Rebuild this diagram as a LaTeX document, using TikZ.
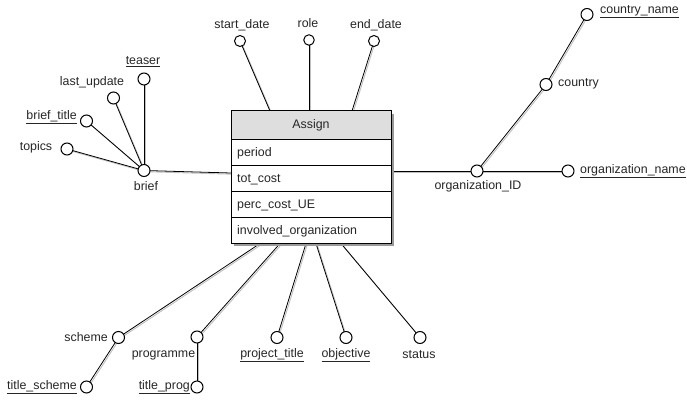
\documentclass[tikz,border=0pt]{standalone}
\usepackage{fontspec}
\setmainfont{Liberation Sans}
\usetikzlibrary{backgrounds}
\begin{document}
\begin{tikzpicture}[x=1pt,y=-1pt,
  every node/.style={font=\fontsize{12.4}{14}\selectfont, text=black!85, inner sep=0pt},
  attr/.style={circle, draw=black, fill=white, line width=1pt, minimum size=12pt, inner sep=0pt},
  sattr/.style={attr, minimum size=10.5pt},
  lbl/.style={text=black!85},
  conn/.style={draw=black, line width=0.8pt, preaction={draw=black!25, line width=0.9pt, transform canvas={xshift=1.2pt,yshift=-1.2pt}}},
  row/.style={draw=black, line width=1pt, fill=white, minimum width=160pt, minimum height=26pt, inner sep=0pt},
  rowtxt/.style={anchor=west, text=black!85}
]
\useasboundingbox (0,0) rectangle (687,401);
% shadow of entity
\fill[black!40] (233.5,113.5) rectangle (393.5,245.5);
% entity box
\node[row, fill=black!13, minimum height=28pt] (assign) at (311,125) {};
\node[row] (period) at (311,152) {};
\node[row] (totcost) at (311,178.5) {};
\node[row] (perc) at (311,204.5) {};
\node[row] (invol) at (311,230.5) {};
\node at (assign.center) {Assign};
\node[rowtxt] (tperiod) at (237,153) {period};
\node[rowtxt] (ttot) at (237,179.5) {tot\_cost};
\node[rowtxt] (tperc) at (237,205.5) {perc\_cost\_UE};
\node[rowtxt] (tinv) at (237,231.5) {involved\_organization};

% border coordinates on entity
\coordinate (eTa) at (270,111);
\coordinate (eTb) at (309,111);
\coordinate (eTc) at (352,111);
\coordinate (eL) at (231,173);
\coordinate (eR) at (391,171);
\coordinate (eB1) at (260,243.5);
\coordinate (eB2) at (280,243.5);
\coordinate (eB3) at (306,243.5);
\coordinate (eB4) at (316,243.5);
\coordinate (eB5) at (341,243.5);

% attributes
\node[attr, minimum size=11pt] (start) at (240,41) {};
\node[sattr] (role) at (309,40) {};
\node[attr, minimum size=11pt] (end) at (374,41) {};
\node[attr] (brief) at (144,170.5) {};
\node[attr] (teaser) at (144,79) {};
\node[attr] (lastup) at (113.5,98) {};
\node[attr] (btitle) at (86.5,121) {};
\node[attr] (topics) at (67,149) {};
\node[attr] (orgid) at (477,171) {};
\node[attr] (orgname) at (568,171) {};
\node[attr] (country) at (546,84.5) {};
\node[attr] (cname) at (587,14.5) {};
\node[attr] (scheme) at (118.5,337.5) {};
\node[attr] (tscheme) at (86.5,387) {};
\node[attr] (programme) at (197,337) {};
\node[attr] (tprog) at (197,387) {};
\node[attr] (ptitle) at (277,337.5) {};
\node[attr] (objective) at (346,337.5) {};
\node[attr] (status) at (420,337.5) {};

% connectors (behind the circles)
\begin{pgfonlayer}{background}
\path[conn] (start.center) -- (eTa);
\path[conn] (role.center) -- (eTb);
\path[conn] (end.center) -- (eTc);
\path[conn] (brief.center) -- (eL);
\path[conn] (teaser.center) -- (brief.center);
\path[conn] (lastup.center) -- (brief.center);
\path[conn] (btitle.center) -- (brief.center);
\path[conn] (topics.center) -- (brief.center);
\path[conn] (eR) -- (orgid.center);
\path[conn] (orgid.center) -- (orgname.center);
\path[conn] (orgid.center) -- (country.center);
\path[conn] (country.center) -- (cname.center);
\path[conn] (scheme.center) -- (eB1);
\path[conn] (scheme.center) -- (tscheme.center);
\path[conn] (programme.center) -- (eB2);
\path[conn] (programme.center) -- (tprog.center);
\path[conn] (ptitle.center) -- (eB3);
\path[conn] (objective.center) -- (eB4);
\path[conn] (status.center) -- (eB5);
\end{pgfonlayer}

% labels
\node[lbl] (lstart) at (242,25) {start\_date};
\node[lbl] (lrole) at (308,23) {role};
\node[lbl] (lend) at (376,25) {end\_date};
\node[lbl] (lteaser) at (143,62) {\underline{teaser}};
\node[lbl] (llast) at (92,82) {last\_update};
\node[lbl, anchor=east] (lbtitle) at (77,117) {\underline{brief\_title}};
\node[lbl] (ltopics) at (36,147) {topics};
\node[lbl] (lbrief) at (146,186) {brief};
\node[lbl, anchor=west] (lcname) at (600,12) {\underline{country\_name}};
\node[lbl, anchor=west] (lcountry) at (558,84) {country};
\node[lbl] (lorgid) at (478,186) {organization\_ID};
\node[lbl, anchor=west] (lorgname) at (580,171) {\underline{organization\_name}};
\node[lbl, anchor=east] (lscheme) at (108,337) {scheme};
\node[lbl, anchor=east] (ltscheme) at (77,387) {\underline{title\_scheme}};
\node[lbl] (lprog) at (163.5,355) {programme};
\node[lbl, anchor=east] (ltprog) at (190,387) {\underline{title\_prog}};
\node[lbl] (lptitle) at (272,355) {\underline{project\_title}};
\node[lbl] (lobj) at (346,355) {\underline{objective}};
\node[lbl] (lstatus) at (419,355) {status};
\end{tikzpicture}
\end{document}
